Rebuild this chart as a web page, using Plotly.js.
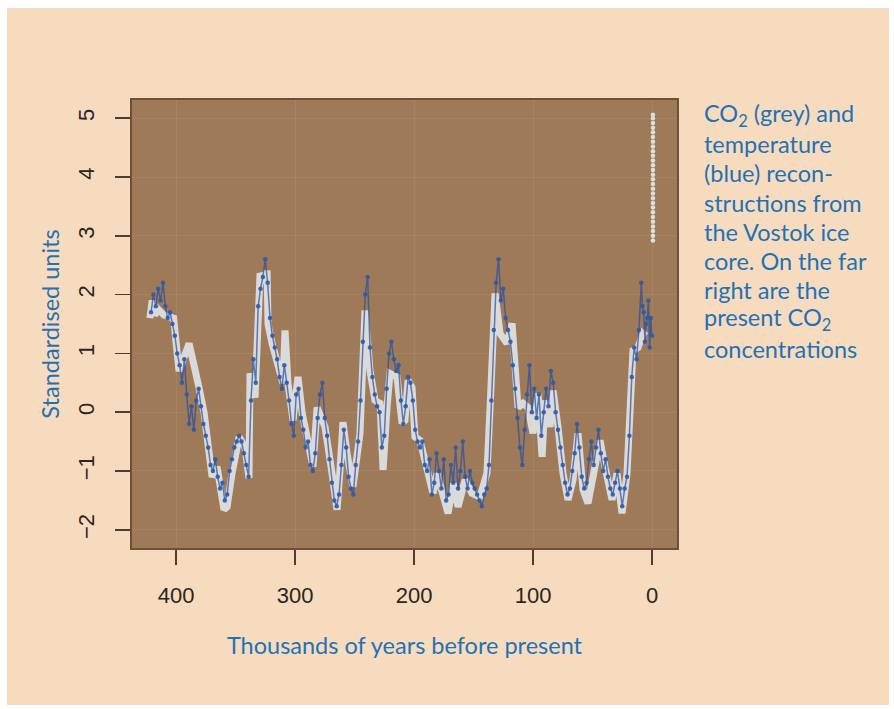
<!DOCTYPE html>
<html>
<head>
<meta charset="utf-8">
<script src="https://cdn.plot.ly/plotly-3.0.1.min.js"></script>
<style>
  html, body { margin: 0; padding: 0; background: #ffffff; width: 894px; height: 709px; overflow: hidden; }
  #chart { position: absolute; left: 7px; top: 8px; width: 882px; height: 697px; }
</style>
</head>
<body>
<div id="chart"></div>
<script>
// CO2 reconstruction (thousands of years BP, standardised units)
const co2Age = [422, 420, 418, 415, 410, 402, 397.5, 389, 380.7, 376.5, 369.7, 365.5, 359.7, 357.1, 352.9, 347, 342, 338.7, 337.8, 333.6, 329.4, 325.2, 323.5, 322.7, 319.3, 314.3, 310.1, 308.4, 305.9, 301.7, 297.5, 294.1, 289.1, 284.9, 281.5, 274.8, 268.9, 264.7, 262.2, 259.7, 256.3, 251.3, 245.4, 241.2, 237, 232.8, 228.6, 226, 222.7, 220.2, 214.3, 210.1, 207.6, 205, 201.7, 199.2, 195, 189.1, 184, 180.7, 175.6, 171.4, 167.2, 163, 157.1, 151.3, 144.5, 138.7, 136.1, 134.5, 131.9, 127.7, 121.8, 117.6, 115.1, 112.6, 108.4, 104.2, 100, 95.8, 92.4, 89.9, 85.7, 83.2, 79, 74.8, 70.6, 66.4, 62.2, 58, 53.8, 49.6, 43.7, 39.5, 33.6, 29.4, 25.2, 21, 18.5, 16, 11.8, 7.6, 5];
const co2Val = [1.6, 1.9, 1.65, 1.75, 1.65, 1.6, 0.7, 1.17, 0.42, 0.0, -1.1, -0.93, -1.66, -1.61, -1.04, -0.42, -0.6, -1.12, 0.66, 0.25, 2.36, 2.2, 2.41, 1.5, 1.17, 0.77, 0.49, 1.39, 0.49, -0.14, 0.6, 0.0, -0.59, -0.93, 0.08, -0.25, -1.04, -1.66, -0.98, -0.17, -0.7, -1.27, -0.36, 1.73, 0.71, 0.2, 0.15, -0.98, 0.08, 0.66, 0.6, -0.19, -0.14, 0.54, 0.42, -0.42, -0.48, -0.93, -1.38, -1.04, -1.38, -1.72, -1.21, -1.61, -1.15, -1.38, -1.44, -1.04, 0.08, 1.05, 2.02, 1.34, 1.17, 1.51, 0.54, 0.08, 0.15, 0.08, -0.36, 0.32, -0.76, 0.2, -0.25, 0.37, -0.25, -1.04, -1.49, -1.15, -0.36, -1.32, -1.55, -1.04, -0.48, -0.93, -1.49, -1.04, -1.72, -1.04, 0.08, 1.05, 1.1, 1.34, 1.3];

// Temperature reconstruction
const tempAge = [421, 419, 417, 415, 413, 411, 409, 407, 405, 403, 401, 399, 397, 395, 393, 391, 389, 387, 385, 383, 381, 379, 377, 375, 373, 371, 369, 367, 365, 363, 361, 359, 357, 355, 353, 351, 349, 347, 345, 343, 341, 339, 337, 335, 333, 331, 329, 327, 325, 323, 321, 319, 317, 315, 313, 311, 309, 307, 305, 303, 301, 299, 297, 295, 293, 291, 289, 287, 285, 283, 281, 279, 277, 275, 273, 271, 269, 267, 265, 263, 261, 259, 257, 255, 253, 251, 249, 247, 245, 243, 241, 239, 237, 235, 233, 231, 229, 227, 225, 223, 221, 219, 217, 215, 213, 211, 209, 207, 205, 203, 201, 199, 197, 195, 193, 191, 189, 187, 185, 183, 181, 179, 177, 175, 173, 171, 169, 167, 165, 163, 161, 159, 157, 155, 153, 151, 149, 147, 145, 143, 141, 139, 137, 135, 133, 131, 129, 127, 125, 123, 121, 119, 117, 115, 113, 111, 109, 107, 105, 103, 101, 99, 97, 95, 93, 91, 89, 87, 85, 83, 81, 79, 77, 75, 73, 71, 69, 67, 65, 63, 61, 59, 57, 55, 53, 51, 49, 47, 45, 43, 41, 39, 37, 35, 33, 31, 29, 27, 25, 23, 21, 19, 17, 15, 13, 11, 9, 8, 7, 6, 5, 4, 3, 2, 1, 0];
const tempVal = [1.7, 2.0, 1.8, 2.1, 1.9, 2.2, 1.8, 1.6, 1.7, 1.5, 1.3, 1.0, 0.8, 0.5, 0.9, 0.3, -0.2, 0.1, -0.3, 0.2, 0.4, 0.1, -0.2, -0.4, -0.6, -0.9, -1.0, -0.8, -1.1, -1.3, -1.2, -1.5, -1.4, -1.0, -0.8, -0.6, -0.5, -0.4, -0.5, -0.7, -0.9, -1.1, 0.2, 0.9, 0.5, 1.8, 2.1, 2.3, 2.6, 2.2, 1.6, 1.3, 1.1, 0.9, 0.6, 0.4, 0.8, 0.5, 0.2, -0.2, -0.4, 0.3, 0.4, -0.1, -0.3, -0.6, -0.5, -0.9, -1.0, -0.7, -0.1, 0.3, 0.5, -0.1, -0.4, -0.8, -1.2, -1.5, -1.6, -1.4, -0.9, -0.3, -0.6, -1.1, -1.3, -1.4, -0.9, -0.5, 0.2, 1.2, 2.0, 2.3, 1.1, 0.6, 0.3, 0.1, 0.0, -0.6, -0.4, 0.4, 1.0, 1.2, 0.9, 0.7, 0.8, 0.2, -0.2, 0.1, 0.6, 0.5, 0.2, -0.3, -0.5, -0.6, -0.5, -0.9, -1.0, -0.8, -1.4, -1.2, -0.7, -1.0, -1.3, -0.8, -1.5, -1.4, -0.9, -1.2, -0.6, -1.3, -1.0, -0.5, -1.1, -1.3, -1.0, -1.2, -1.3, -1.4, -1.5, -1.6, -1.4, -1.3, -0.9, 0.2, 1.4, 2.2, 2.6, 1.9, 2.1, 1.6, 1.4, 1.2, 0.8, 0.4, -0.1, -0.6, -0.9, -0.3, 0.3, 0.8, 0.0, 0.4, -0.1, 0.3, -0.4, 0.0, 0.4, 0.1, 0.7, 0.5, 0.0, -0.3, -0.6, -0.9, -1.2, -1.4, -1.3, -1.0, -0.7, -0.2, -0.6, -1.1, -1.3, -1.2, -0.8, -0.5, -0.9, -0.6, -0.3, -0.7, -1.0, -0.8, -1.1, -1.3, -1.4, -1.2, -1.0, -1.3, -1.6, -1.3, -1.1, -0.4, 0.6, 1.1, 0.9, 1.4, 2.2, 1.8, 1.7, 1.2, 1.5, 1.6, 1.9, 1.1, 1.6, 1.3];

// Present CO2 concentrations (far right column)
const presentAge = [-0.8, -0.8, -0.8, -0.8, -0.8, -0.8, -0.8, -0.8, -0.8, -0.8, -0.8, -0.8, -0.8, -0.8, -0.8, -0.8, -0.8, -0.8, -0.8, -0.8, -0.8, -0.8, -0.8, -0.8, -0.8, -0.8, -0.8, -0.8];
const presentCO2 = [2.92, 3.0, 3.08, 3.16, 3.24, 3.32, 3.4, 3.48, 3.56, 3.64, 3.72, 3.8, 3.88, 3.96, 4.04, 4.12, 4.2, 4.28, 4.36, 4.44, 4.52, 4.6, 4.68, 4.76, 4.84, 4.92, 5.0, 5.06];

const xTicks = [400, 300, 200, 100, 0];
const yTicks = [-2, -1, 0, 1, 2, 3, 4, 5];

const captionLines = ["CO<sub>2</sub> (grey) and", "temperature", "(blue) recon-", "structions from", "the Vostok ice", "core. On the far", "right are the", "present CO<sub>2</sub>", "concentrations"];

const blue = '#1f72b4';
const plotTop = 100, plotH = 448, plotLeft = 132, plotW = 545;

const annotations = captionLines.map((t, i) => ({
  text: t, xref: 'paper', yref: 'paper',
  x: (702 - plotLeft) / plotW, xanchor: 'left',
  y: 1 - ((115 + 29.2 * i) - plotTop) / plotH, yanchor: 'middle',
  showarrow: false, align: 'left',
  font: { family: 'Lato, sans-serif', size: 23.5, color: blue }
}));

const traces = [
  { x: co2Age, y: co2Val, type: 'scatter', mode: 'lines',
    line: { color: '#dadada', width: 7 }, hoverinfo: 'skip' },
  { x: tempAge, y: tempVal, type: 'scatter', mode: 'lines+markers',
    line: { color: 'rgba(38,78,158,0.7)', width: 1.5 },
    marker: { color: '#2c5aa8', size: 4.5, opacity: 0.9 }, hoverinfo: 'skip' },
  { x: presentAge, y: presentCO2, type: 'scatter', mode: 'markers',
    marker: { color: '#dedede', size: 4.5 }, hoverinfo: 'skip' }
];

const axisCommon = {
  ticks: 'outside', ticklen: 15, tickwidth: 1.5, tickcolor: '#4f3d2f',
  showline: true, mirror: true, linecolor: '#6d5036', linewidth: 2,
  showgrid: true, gridcolor: 'rgba(255,236,210,0.08)', gridwidth: 1,
  zeroline: false,
  tickfont: { family: '"Liberation Sans", Arial, sans-serif', size: 22, color: '#2b2520' }
};

const layout = {
  width: 882, height: 697,
  margin: { l: 125, r: 212, t: 92, b: 157 },
  paper_bgcolor: '#f7dbbe', plot_bgcolor: '#9e7a59',
  showlegend: false,
  xaxis: Object.assign({}, axisCommon, {
    range: [437, -21], tickvals: xTicks, ticktext: xTicks.map(String),
    ticklabelstandoff: 12,
    title: { text: 'Thousands of years before present', standoff: 30,
      font: { family: 'Lato, sans-serif', size: 23.5, color: blue } }
  }),
  yaxis: Object.assign({}, axisCommon, {
    range: [-2.31, 5.31], tickvals: yTicks, tickangle: -90,
    ticklabelstandoff: 12,
    title: { text: 'Standardised units', standoff: 8,
      font: { family: 'Lato, sans-serif', size: 23.5, color: blue } }
  }),
  annotations: annotations
};

Plotly.newPlot('chart', traces, layout, { displayModeBar: false, staticPlot: true });
</script>
</body>
</html>
